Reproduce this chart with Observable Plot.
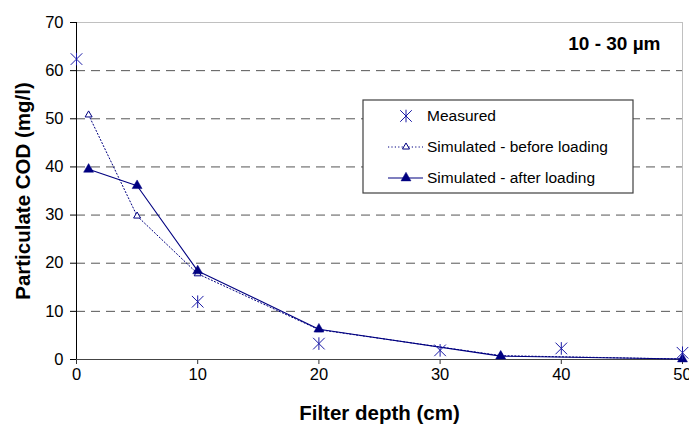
<!DOCTYPE html>
<html>
<head>
<meta charset="utf-8">
<script src="https://cdn.jsdelivr.net/npm/d3@7"></script>
<script src="https://cdn.jsdelivr.net/npm/@observablehq/plot@0.6"></script>
<style>
  html, body { margin: 0; padding: 0; background: #fff; }
  #chart { position: relative; width: 689px; height: 425px; }
  svg { font-family: "Liberation Sans", Arial, sans-serif; }
</style>
</head>
<body>
<div id="chart"></div>
<script>
// ---- data ----
const seriesNames = ["Measured", "Simulated - before loading", "Simulated - after loading"];
const measuredDepth = [0, 10, 20, 30, 40, 50];
const measuredCOD = [62.4, 12.0, 3.3, 1.9, 2.3, 1.4];
const beforeDepth = [1, 5, 10, 20, 35, 50];
const beforeCOD = [50.8, 29.8, 17.8, 6.2, 0.8, 0.1];
const afterDepth = [1, 5, 10, 20, 35, 50];
const afterCOD = [39.5, 36.1, 18.4, 6.3, 0.7, 0.1];
const xTicks = [0, 10, 20, 30, 40, 50];
const yTicks = [0, 10, 20, 30, 40, 50, 60, 70];
const panelTitle = "10 - 30 µm";
const xTitle = "Filter depth (cm)";
const yTitle = "Particulate COD (mg/l)";

const measured = measuredDepth.map((d, i) => ({depth: d, cod: measuredCOD[i]}));
const before = beforeDepth.map((d, i) => ({depth: d, cod: beforeCOD[i]}));
const after = afterDepth.map((d, i) => ({depth: d, cod: afterCOD[i]}));

const navy = "#000080";
const FONT = "'Liberation Sans', Arial, sans-serif";

// Excel-like asterisk: X plus vertical bar
const starSymbol = {
  draw(context, size) {
    const r = Math.sqrt(size / Math.PI);
    const d = r * 0.92;
    context.moveTo(0, -r); context.lineTo(0, r);
    context.moveTo(-d, -d); context.lineTo(d, d);
    context.moveTo(-d, d); context.lineTo(d, -d);
  }
};

const W = 689, H = 425;
const plot = Plot.plot({
  width: W,
  height: H,
  marginLeft: 76,
  marginRight: 7,
  marginTop: 22,
  marginBottom: 66,
  style: {fontFamily: FONT, fontSize: "16.5px", color: "#000", background: "#fff"},
  x: {domain: [0, 50], ticks: xTicks, label: null},
  y: {domain: [0, 70], ticks: yTicks, label: null},
  marks: [
    Plot.gridY(yTicks.filter(t => t > 0), {stroke: "#555", strokeOpacity: 1, strokeWidth: 1, strokeDasharray: "9,6"}),
    Plot.ruleY([70], {stroke: "#c0c0c0"}),
    Plot.ruleX([50], {stroke: "#c0c0c0"}),
    Plot.axisX({ticks: xTicks, tickSize: 5, tickPadding: 4, stroke: "#333", fontSize: 16.5}),
    Plot.axisY({ticks: yTicks, tickSize: 6, tickPadding: 7, stroke: "#000", fontSize: 16.5}),
    Plot.ruleY([0], {stroke: "#444"}),
    Plot.ruleX([0], {stroke: "#000"}),
    Plot.line(before, {x: "depth", y: "cod", stroke: navy, strokeWidth: 1, strokeDasharray: "1.2,2.2"}),
    Plot.line(after, {x: "depth", y: "cod", stroke: navy, strokeWidth: 1.1}),
    Plot.dot(before, {x: "depth", y: "cod", symbol: "triangle", r: 2.6, stroke: navy, fill: "#fff", strokeWidth: 1}),
    Plot.dot(after, {x: "depth", y: "cod", symbol: "triangle", r: 3.7, fill: navy, stroke: navy, strokeWidth: 0.5}),
    Plot.dot(measured, {x: "depth", y: "cod", symbol: starSymbol, r: 6.3, stroke: "#1a1aa6", strokeWidth: 1, fill: "none"}),
    Plot.text([panelTitle], {frameAnchor: "top-right", dx: -22, dy: 14, lineAnchor: "top", textAnchor: "end", fontWeight: "bold", fontSize: 19, fill: "#000"}),
    Plot.text([xTitle], {frameAnchor: "bottom", dy: 54, lineAnchor: "middle", textAnchor: "middle", fontWeight: "bold", fontSize: 20.5, fill: "#000"}),
    Plot.text([yTitle], {frameAnchor: "left", dx: -53, rotate: -90, lineAnchor: "middle", textAnchor: "middle", fontWeight: "bold", fontSize: 20.5, fill: "#000"})
  ]
});
document.getElementById("chart").appendChild(plot);

// ---- in-plot legend ----
const svg = d3.select(plot);
const lg = svg.append("g").attr("class", "legend").attr("text-anchor", "start");
const bx = 363, by = 100, bw = 270, bh = 93;
lg.append("rect").attr("x", bx).attr("y", by).attr("width", bw).attr("height", bh)
  .attr("fill", "#fff").attr("stroke", "#404040").attr("stroke-width", 1.2);
const rowY = [116, 147, 178];
const symX = 406, lineX0 = 388, lineX1 = 423, textX = 427;
seriesNames.forEach((name, i) => {
  const y = rowY[i];
  if (i === 1) {
    lg.append("line").attr("x1", lineX0).attr("x2", lineX1).attr("y1", y).attr("y2", y)
      .attr("stroke", navy).attr("stroke-dasharray", "1.2,2.2");
    lg.append("path").attr("transform", `translate(${symX},${y})`)
      .attr("d", d3.symbol(d3.symbolTriangle, 2.6 * 2.6 * Math.PI)())
      .attr("fill", "#fff").attr("stroke", navy);
  } else if (i === 2) {
    lg.append("line").attr("x1", lineX0).attr("x2", lineX1).attr("y1", y).attr("y2", y)
      .attr("stroke", navy).attr("stroke-width", 1.1);
    lg.append("path").attr("transform", `translate(${symX},${y})`)
      .attr("d", d3.symbol(d3.symbolTriangle, 3.7 * 3.7 * Math.PI)())
      .attr("fill", navy).attr("stroke", navy).attr("stroke-width", 0.5);
  } else {
    lg.append("path").attr("transform", `translate(${symX},${y})`)
      .attr("d", d3.symbol(starSymbol, 6.3 * 6.3 * Math.PI)())
      .attr("fill", "none").attr("stroke", "#1a1aa6");
  }
  lg.append("text").attr("x", textX).attr("y", y).attr("dy", "0.35em")
    .attr("text-anchor", "start")
    .attr("font-family", FONT).attr("font-size", 15.5).attr("fill", "#000")
    .text(name);
});
</script>
</body>
</html>
